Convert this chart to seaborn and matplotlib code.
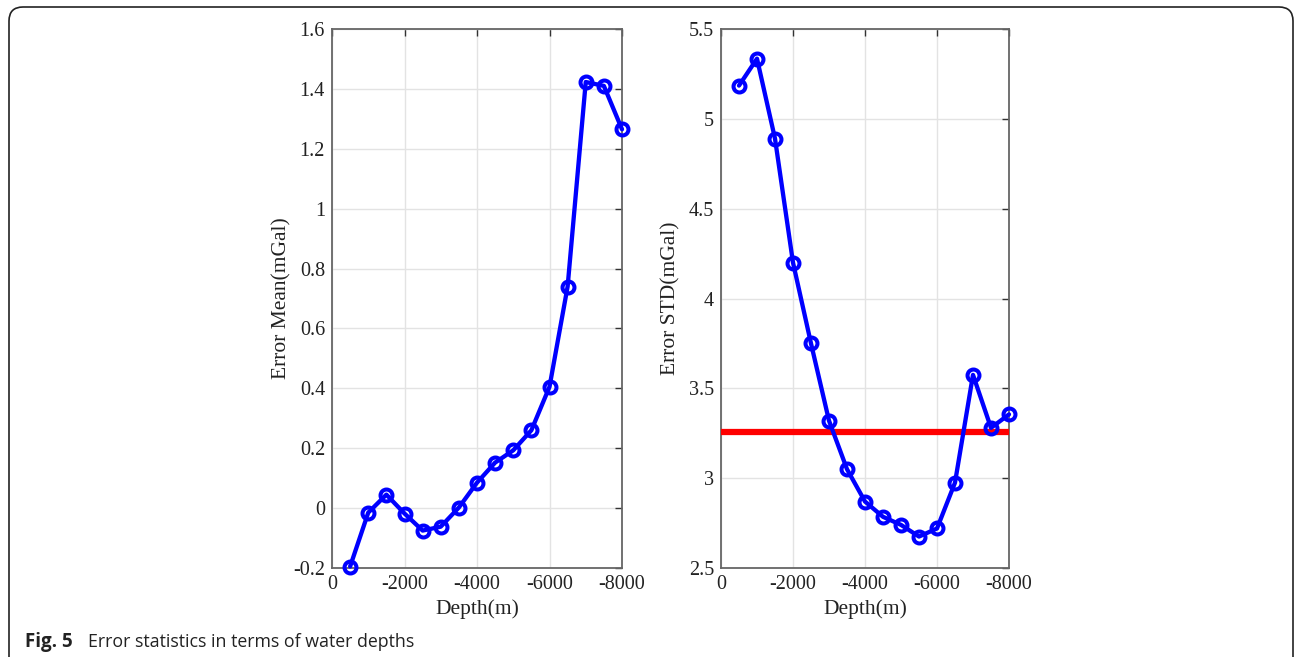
import matplotlib
matplotlib.use("Agg")
import matplotlib.pyplot as plt
import seaborn as sns
import pandas as pd
from matplotlib.path import Path
from matplotlib.patches import PathPatch

# depths (m) and error statistics
depth = [-500, -1000, -1500, -2000, -2500, -3000, -3500, -4000,
         -4500, -5000, -5500, -6000, -6500, -7000, -7500, -8000]
err_mean = [-0.195, -0.015, 0.045, -0.018, -0.075, -0.062, 0.002, 0.085,
            0.152, 0.193, 0.26, 0.405, 0.74, 1.423, 1.41, 1.265]
err_std = [5.185, 5.335, 4.89, 4.20, 3.75, 3.32, 3.05, 2.87,
           2.785, 2.74, 2.675, 2.72, 2.975, 3.575, 3.28, 3.355]
std_ref = 3.255

xticks = [0, -2000, -4000, -6000, -8000]
mean_ticks = [-0.2, 0, 0.2, 0.4, 0.6, 0.8, 1, 1.2, 1.4, 1.6]
std_ticks = [2.5, 3, 3.5, 4, 4.5, 5, 5.5]

sns.set_theme(style="white")
plt.rcParams['font.family'] = ['Liberation Serif', 'DejaVu Serif']
plt.rcParams['axes.unicode_minus'] = False

df = pd.DataFrame({"depth": depth, "mean": err_mean, "std": err_std})

W, H = 1295, 657
fig = plt.figure(figsize=(W / 100, H / 100), dpi=100)
ax1 = fig.add_axes([332 / W, 1 - 568 / H, 290 / W, 539 / H])
ax2 = fig.add_axes([721 / W, 1 - 568 / H, 288 / W, 539 / H])

line_kw = dict(color="blue", linewidth=3.1, marker="o", markersize=8.6,
               markerfacecolor="none", markeredgecolor="blue", markeredgewidth=2.9,
               clip_on=False, zorder=5)

sns.lineplot(data=df, x="depth", y="mean", ax=ax1, **line_kw)
sns.lineplot(data=df, x="depth", y="std", ax=ax2, **line_kw)
ax2.axhline(std_ref, color="red", linewidth=4.5, zorder=4)

for ax, yt, ylab, ylx in [(ax1, mean_ticks, "Error Mean(mGal)", -0.141),
                          (ax2, std_ticks, "Error STD(mGal)", -0.139)]:
    ax.set_xlim(0, -8000)
    ax.set_ylim(yt[0], yt[-1])
    ax.set_xticks(xticks)
    ax.set_xticklabels([str(t) for t in xticks])
    ax.set_yticks(yt)
    ax.set_yticklabels([f"{t:g}" for t in yt])
    ax.grid(True, color="#e3e3e3", linewidth=1)
    ax.set_axisbelow(True)
    ax.tick_params(direction="in", length=5, width=1, color="#333333",
                   top=True, right=True, labelsize=14.5, labelcolor="#222222", pad=5)
    for s in ax.spines.values():
        s.set_color("#666666")
        s.set_linewidth(1.3)
    ax.set_xlabel("Depth(m)", fontsize=15.5, color="#222222", va="top")
    ax.xaxis.set_label_coords(0.5, -0.058)
    ax.set_ylabel(ylab, fontsize=15.5, color="#222222")
    ax.yaxis.set_label_coords(ylx, 0.5)

# rounded frame around the figure
r = 14
verts = [(9 / W, 0), (9 / W, 1 - (7 + r) / H), (9 / W, 1 - 7 / H), ((9 + r) / W, 1 - 7 / H),
         ((1293 - r) / W, 1 - 7 / H), (1293 / W, 1 - 7 / H), (1293 / W, 1 - (7 + r) / H),
         (1293 / W, 0)]
codes = [Path.MOVETO, Path.LINETO, Path.CURVE3, Path.CURVE3,
         Path.LINETO, Path.CURVE3, Path.CURVE3, Path.LINETO]
fig.patches.append(PathPatch(Path(verts, codes), transform=fig.transFigure,
                             fill=False, edgecolor="#222222", linewidth=1.2))

fig.text(25 / W, 1 - 647 / H, "Fig. 5", fontsize=13.5, fontweight="bold",
         family=["Open Sans", "DejaVu Sans"], color="#222222")
fig.text(88 / W, 1 - 647 / H, "Error statistics in terms of water depths", fontsize=12.8,
         family=["Open Sans", "DejaVu Sans"], color="#222222")

fig.savefig("out.png", dpi=100)
